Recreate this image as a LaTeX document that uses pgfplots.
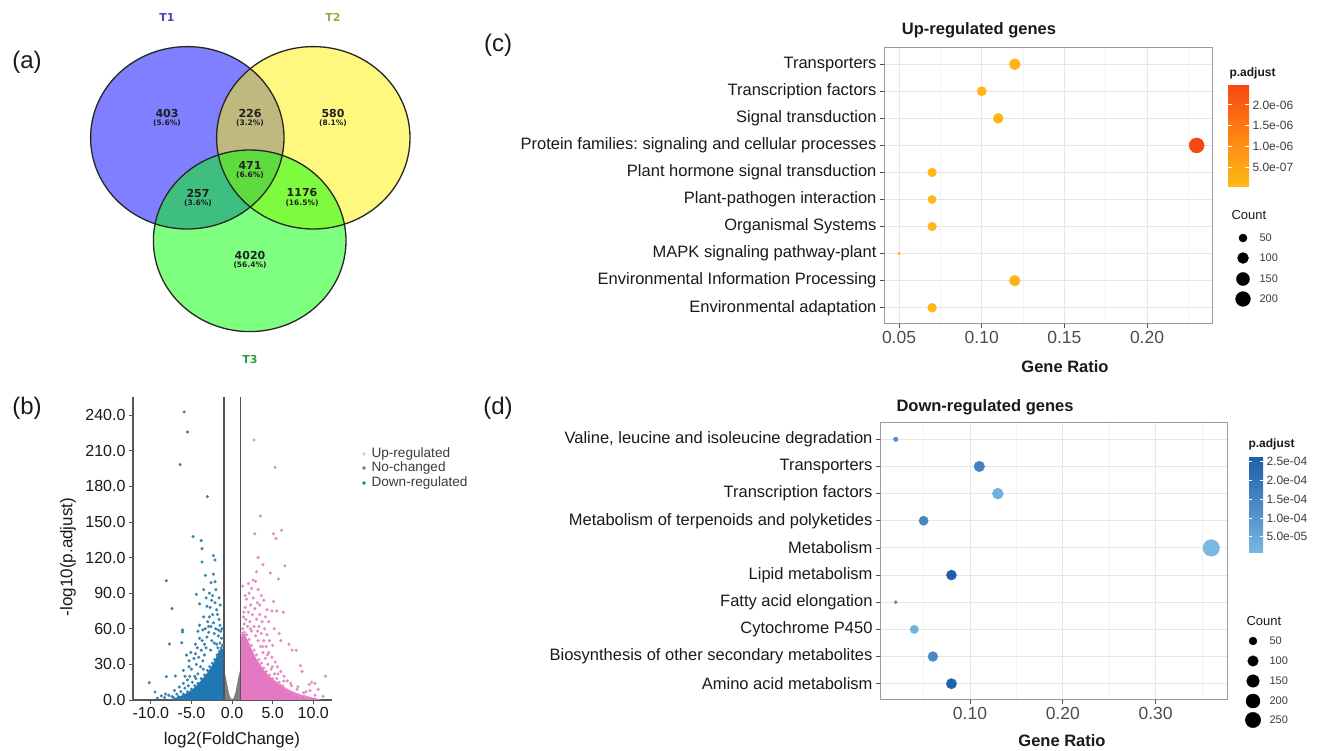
\documentclass[border=0pt]{standalone}
\usepackage{fontspec}
\setmainfont{Liberation Sans}
\newfontfamily\vennfont{DejaVu Sans}
\usepackage{pgfplots}
\pgfplotsset{compat=1.18}
\frenchspacing
\definecolor{vblue}{HTML}{1F77B4}
\definecolor{vpink}{HTML}{E377C2}
\definecolor{vgray}{HTML}{7F7F7F}
\definecolor{sblue}{HTML}{3584B0}
\definecolor{spink}{HTML}{E68AC7}
\definecolor{vline}{HTML}{555555}
\definecolor{txt}{HTML}{1A1A1A}
\definecolor{tickc}{HTML}{4D4D4D}
\definecolor{borderc}{HTML}{9A9A9A}
\definecolor{gridmaj}{HTML}{E6E6E6}
\definecolor{gridmin}{HTML}{F2F2F2}
\definecolor{tone}{HTML}{4545C0}
\definecolor{ttwo}{HTML}{A3A347}
\definecolor{tthree}{HTML}{2E9E3A}
\definecolor{vtxt}{HTML}{202020}
\newcommand{\fs}[1]{\fontsize{#1}{#1}\selectfont}
\newcommand{\vnum}[4]{%
  \node[font=\vennfont\bfseries\fs{11}, text=vtxt] at (axis cs:#1,#2) {#3};
  \node[font=\vennfont\bfseries\fs{7.5}, text=vtxt] at (axis cs:#1,#2+10) {(#4\%)};}
\pgfplotsset{
  dotpanel/.style={
    scale only axis, clip=false,
    ymin=0.4, ymax=10.6, ytick={1,...,10},
    grid=both, major grid style={color=gridmaj, line width=0.9pt},
    minor grid style={color=gridmin, line width=0.6pt},
    minor tick length=0pt,
    axis line style={draw=borderc, line width=1pt},
    tick align=outside, major tick length=4pt,
    tick style={color=tickc, line width=0.8pt},
    xtick pos=bottom, ytick pos=left,
    yticklabel style={font=\fs{16.5}, text=txt},
    xticklabel style={font=\fs{17.5}, text=tickc},
  }
}
\begin{document}
\begin{tikzpicture}
\fill[white] (0,0) rectangle (1318pt,751pt);
% ---------------- background axis in pixel coordinates ----------------
\begin{axis}[name=bg, at={(0pt,0pt)}, anchor=south west, scale only axis,
  width=1318pt, height=751pt, xmin=0, xmax=1318, ymin=0, ymax=751,
  y dir=reverse, hide axis, clip=false]
% Venn diagram (a)
\fill[blue, fill opacity=0.5] (axis cs:187.3,137.8) ellipse [x radius=96.7pt, y radius=91.2pt];
\fill[yellow, fill opacity=0.5] (axis cs:313.3,137.8) ellipse [x radius=96.7pt, y radius=91.2pt];
\fill[green, fill opacity=0.5] (axis cs:249.7,240.8) ellipse [x radius=96.3pt, y radius=90.8pt];
\draw[line width=1.3pt, black!85] (axis cs:187.3,137.8) ellipse [x radius=96.7pt, y radius=91.2pt];
\draw[line width=1.3pt, black!85] (axis cs:313.3,137.8) ellipse [x radius=96.7pt, y radius=91.2pt];
\draw[line width=1.3pt, black!85] (axis cs:249.7,240.8) ellipse [x radius=96.3pt, y radius=90.8pt];
\node[font=\vennfont\bfseries\fs{11}, text=tone] at (axis cs:167,17) {T1};
\node[font=\vennfont\bfseries\fs{11}, text=ttwo] at (axis cs:333,17) {T2};
\node[font=\vennfont\bfseries\fs{11}, text=tthree] at (axis cs:250,359) {T3};
\vnum{167}{113}{403}{5.6}
\vnum{250}{113}{226}{3.2}
\vnum{333}{113}{580}{8.1}
\vnum{250}{165}{471}{6.6}
\vnum{198}{193}{257}{3.6}
\vnum{302}{193}{1176}{16.5}
\vnum{250}{255}{4020}{56.4}
% panel labels
\node[font=\fs{24}, text=txt] at (axis cs:27,62) {(a)};
\node[font=\fs{24}, text=txt] at (axis cs:27,408) {(b)};
\node[font=\fs{24}, text=txt] at (axis cs:498,45) {(c)};
\node[font=\fs{24}, text=txt] at (axis cs:498,408) {(d)};
% volcano labels and legend
\node[font=\fs{17}, text=txt] at (axis cs:232,740) {log2(FoldChange)};
\node[font=\fs{17}, text=txt, rotate=90] at (axis cs:68,557) {-log10(p.adjust)};
\addplot[only marks, mark=*, mark size=1.6pt, color=vpink!45] coordinates {(364,454)};
\addplot[only marks, mark=*, mark size=1.6pt, color=vgray] coordinates {(364,468)};
\addplot[only marks, mark=*, mark size=1.6pt, color=sblue!70!teal] coordinates {(364,483)};
\node[anchor=west, font=\fs{13.6}, text=txt!85] at (axis cs:368,454) {Up-regulated};
\node[anchor=west, font=\fs{13.6}, text=txt!85] at (axis cs:368,468) {No-changed};
\node[anchor=west, font=\fs{13.6}, text=txt!85] at (axis cs:368,483) {Down-regulated};
% panel c titles and legends
\node[font=\bfseries\fs{16.5}, text=txt] at (axis cs:979,30) {Up-regulated genes};
\node[font=\bfseries\fs{16.5}, text=txt] at (axis cs:1065,367) {Gene Ratio};
\node[anchor=west, font=\bfseries\fs{12}, text=txt] at (axis cs:1226,73) {p.adjust};
\node[anchor=west, font=\fs{13}, text=txt] at (axis cs:1228,215) {Count};
\addplot[scatter, only marks, mark=*, point meta=\thisrow{c},
  scatter/use mapped color={draw=black, fill=black},
  visualization depends on={1.5+6*sqrt((\thisrow{c}-16)/191) \as \msize},
  scatter/@pre marker code/.append style={/tikz/mark size=\msize}]
  table[x=x, y=y] {
x y c
1243 238 50
1243 258 100
1243 279 150
1243 299 200
};
\node[anchor=west, font=\fs{11}, text=txt!85] at (axis cs:1256,238) {50};
\node[anchor=west, font=\fs{11}, text=txt!85] at (axis cs:1256,258) {100};
\node[anchor=west, font=\fs{11}, text=txt!85] at (axis cs:1256,279) {150};
\node[anchor=west, font=\fs{11}, text=txt!85] at (axis cs:1256,299) {200};
% panel d titles and legends
\node[font=\bfseries\fs{16.5}, text=txt] at (axis cs:985,407) {Down-regulated genes};
\node[font=\bfseries\fs{16.5}, text=txt] at (axis cs:1062,741) {Gene Ratio};
\node[anchor=west, font=\bfseries\fs{12}, text=txt] at (axis cs:1245,444) {p.adjust};
\node[anchor=west, font=\fs{13}, text=txt] at (axis cs:1243,621) {Count};
\addplot[scatter, only marks, mark=*, point meta=\thisrow{c},
  scatter/use mapped color={draw=black, fill=black},
  visualization depends on={1.7+6.6*sqrt((\thisrow{c}-17)/283) \as \msize},
  scatter/@pre marker code/.append style={/tikz/mark size=\msize}]
  table[x=x, y=y] {
x y c
1253 641 50
1253 661 100
1253 681 150
1253 701 200
1253 720 250
};
\node[anchor=west, font=\fs{11}, text=txt!85] at (axis cs:1266,641) {50};
\node[anchor=west, font=\fs{11}, text=txt!85] at (axis cs:1266,661) {100};
\node[anchor=west, font=\fs{11}, text=txt!85] at (axis cs:1266,681) {150};
\node[anchor=west, font=\fs{11}, text=txt!85] at (axis cs:1266,701) {200};
\node[anchor=west, font=\fs{11}, text=txt!85] at (axis cs:1266,720) {250};
\end{axis}

% ---------------- (b) volcano plot ----------------
\begin{axis}[at={(133pt,51pt)}, anchor=south west, scale only axis,
  width=199pt, height=303pt, xmin=-12.2, xmax=12.3, ymin=0, ymax=255.3,
  axis x line*=bottom, axis y line*=left,
  axis line style={draw=vline, line width=1.1pt},
  tick align=outside, major tick length=4pt, tick style={color=vline, line width=0.9pt},
  xtick={-10,-5,0,5,10}, xticklabels={-10.0,-5.0,0.0,5.0,10.0},
  ytick={0,30,60,90,120,150,180,210,240},
  yticklabels={0.0,30.0,60.0,90.0,120.0,150.0,180.0,210.0,240.0},
  tick label style={font=\fs{16}, text=txt}]
\addplot[fill=vpink, draw=none] coordinates {(1.08,0) (1.08,52) (1.25,56) (1.5,56) (1.8,52) (2.1,48) (2.4,43) (2.7,38.5) (3.05,34) (3.5,29.5) (3.9,25.5) (4.3,22) (4.7,19.5) (5.3,16) (5.9,13) (6.5,10.5) (7.2,8) (8.0,5.5) (8.8,3.8) (9.6,2.5) (10.5,1.2) (11,0)} -- cycle;
\addplot[fill=vblue, draw=none] coordinates {(-1.08,0) (-1.08,42) (-1.3,44) (-1.6,41) (-1.9,37) (-2.2,32.5) (-2.5,28.5) (-2.8,25.5) (-3.1,22.5) (-3.5,19) (-3.95,15.5) (-4.4,12) (-4.8,9.5) (-5.3,7) (-5.8,5) (-6.3,3.5) (-6.8,2.2) (-7.3,1) (-7.6,0)} -- cycle;
\addplot[fill=vgray, draw=none] coordinates {(-1.08,0) (-1.08,27) (-0.95,25) (-0.8,20) (-0.6,13) (-0.4,6) (-0.2,1.8) (0,0.6) (0.2,1.8) (0.4,6) (0.6,13) (0.8,20) (0.95,24) (1.08,26) (1.08,0)} -- cycle;
\addplot[only marks, mark=*, mark size=1.35pt, color=sblue] table {
x y
-5.9 242.7
-5.5 225.8
-6.4 198.3
-3.05 171.3
-4.8 137.6
-3.8 134.3
-3.7 127.5
-3.7 116.3
-2.3 121.6
-2.1 118
-8.1 100.5
-2.6 98.8
-2.1 99.7
-7.4 77
-6.1 59
-6.1 57.3
-7.7 47.2
-8.1 19.7
-10.2 14.6
-9.5 6.7
-8.2 5
-7.0 20.2
-6.2 48.3
-5.6 37.9
-5.3 28
-6.0 25
-4.4 89
-4.0 81
-3.5 93
-3.1 79
-2.8 70
-2.5 84
-2.3 65
-1.9 76
-1.7 59
-1.5 63
-3.6 59
-4.0 63
-3.1 53
-4.5 47
-5.1 40
-4.5 39
-3.4 47
-2.2 48
-1.7 54
-1.3 52
-1.4 58
-1.5 48
-1.6 68
-1.8 72
-1.9 47
-2.0 60
-2.1 82
-2.2 56
-2.4 88
-2.4 72
-2.5 50
-2.6 62
-2.7 78
-2.8 90
-2.9 57
-3.0 66
-3.2 44
-3.2 86
-3.3 60
-3.4 38
-3.5 70
-3.6 33
-3.7 50
-3.8 42
-3.9 28
-4.0 52
-4.1 36
-4.2 22
-4.3 44
-4.4 30
-4.6 20
-4.7 35
-4.9 15
-5.0 26
-5.2 20
-5.4 12
-5.5 17
-5.8 10
-6.0 14
-6.3 7
-6.5 11
-6.8 5
-7.1 8
-7.4 3
-7.8 4
-8.3 2
-8.7 3.5
-9.2 1.5
-1.2 46
-1.35 44
-1.55 41
-1.85 38
-2.15 34
-2.45 31
-2.75 28
-3.05 25
-3.4 21
-3.8 18
-4.2 14
-4.6 12
-5.0 9
-5.5 7
-6.0 5
-6.6 3
-7.2 2
-2.0 93
-1.45 80
-1.6 86
-2.3 106
-2.9 62
-4.2 58
-5.3 33
-5.8 20
-3.3 105
-1.25 60
-2.65 42
-3.55 26
-4.45 18
-1.75 44
};
\addplot[only marks, mark=*, mark size=1.35pt, color=spink] table {
x y
2.7 219
5.3 196
3.5 155
2.8 140
5.1 140
6.1 143
5.4 136
6.5 113
3.2 120
3.8 114
4.7 107
5.7 102
3.0 108
2.6 101
3.2 93
3.9 84
3.4 80
4.3 76
4.9 75
5.5 75
6.3 74
5.1 83
5.8 56
7.0 47
7.4 42
8.4 29
8.6 24
9.8 15
11.5 20
9.5 13
10.2 14
7.9 42
1.3 60
1.4 70
1.5 64
1.6 78
1.7 68
1.8 85
1.9 62
2.0 74
2.1 90
2.2 66
2.3 80
2.4 58
2.5 72
2.6 86
2.7 62
2.8 77
2.9 54
3.0 68
3.1 82
3.2 50
3.3 62
3.4 72
3.5 45
3.6 56
3.7 66
3.8 40
3.9 50
4.0 60
4.1 35
4.2 45
4.3 55
4.4 30
4.5 40
4.6 50
4.8 26
4.9 36
5.0 46
5.2 22
5.3 32
5.5 18
5.6 28
5.8 15
6.0 24
6.2 12
6.4 20
6.6 9
6.8 16
7.0 7
7.3 12
7.6 5
8.0 9
8.3 3
8.8 6
9.3 2
9.6 8
10.2 4
1.2 56
1.5 57
1.8 55
2.1 51
2.4 46
2.7 42
3.0 38
3.3 34
3.6 31
3.9 27
4.2 24
4.6 21
5.0 18
5.4 15
5.9 12.5
6.4 10
7.0 7.5
7.6 6
8.2 4.5
9.0 3
1.3 96
2.0 98
2.4 94
1.6 88
3.6 88
4.5 66
5.2 60
6.0 50
4.1 70
2.9 100
1.45 74
2.25 60
3.15 58
3.75 45
4.35 38
4.95 28
5.65 22
6.35 16
7.2 14
8.1 11
9.1 7
10.6 9
11.2 3
};
\addplot[color=vline, line width=1.2pt] coordinates {(-1,0) (-1,255.3)};
\addplot[color=vline, line width=1.2pt] coordinates {(1,0) (1,255.3)};
\end{axis}

% ---------------- (c) up-regulated ----------------
\begin{axis}[dotpanel, at={(884pt,427pt)}, anchor=south west,
  width=328pt, height=276pt, xmin=0.0409, xmax=0.2393,
  xtick={0.05,0.10,0.15,0.20}, xticklabels={0.05,0.10,0.15,0.20},
  minor xtick={0.075,0.125,0.175,0.225},
  yticklabels={Environmental adaptation, Environmental Information Processing, MAPK signaling pathway-plant, Organismal Systems, Plant-pathogen interaction, Plant hormone signal transduction, Protein families: signaling and cellular processes, Signal transduction, Transcription factors, Transporters},
  colormap={cmapc}{rgb255=(255,186,22) rgb255=(255,132,20) rgb255=(246,72,16)},
  point meta min=0.02, point meta max=2.48,
  colorbar,
  colorbar/width=21pt,
  colorbar shift/.style={xshift=16pt, yshift=-37pt},
  colorbar style={at={(parent axis.north east)}, anchor=north west,
    scale only axis, width=21pt, height=102pt, grid=none,
    xtick=\empty, minor xtick={}, minor ytick={},
    ytick={0.5,1,1.5,2}, yticklabels={5.0e-07,1.0e-06,1.5e-06,2.0e-06},
    ytick pos=both, yticklabel pos=right, tick align=inside, major tick length=4pt,
    tick style={color=white, line width=0.8pt}, axis line style={draw=none},
    yticklabel style={font=\fs{12}, text=txt!85}}]
\addplot[scatter, only marks, mark=*, point meta={\thisrow{padj}*1e6},
  scatter/use mapped color={draw=mapped color, fill=mapped color},
  visualization depends on={1.5+6*sqrt((\thisrow{count}-16)/191) \as \msize},
  scatter/@pre marker code/.append style={/tikz/mark size=\msize}]
  table[x=ratio, y=pos] {
ratio pos count padj
0.12 10 101 1.6e-07
0.10 9 70 1.2e-07
0.11 8 81 1.4e-07
0.23 7 207 2.48e-06
0.07 6 60 1.0e-07
0.07 5 52 8.0e-08
0.07 4 60 1.0e-07
0.05 3 16 2.0e-08
0.12 2 95 1.5e-07
0.07 1 62 1.0e-07
};
\end{axis}

% ---------------- (d) down-regulated ----------------
\begin{axis}[dotpanel, at={(880pt,51pt)}, anchor=south west,
  width=347pt, height=277pt, xmin=0.003, xmax=0.377,
  xtick={0.1,0.2,0.3}, xticklabels={0.10,0.20,0.30},
  minor xtick={0.05,0.15,0.25,0.35},
  yticklabels={Amino acid metabolism, Biosynthesis of other secondary metabolites, Cytochrome P450, Fatty acid elongation, Lipid metabolism, Metabolism, Metabolism of terpenoids and polyketides, Transcription factors, Transporters, {Valine, leucine and isoleucine degradation}},
  colormap={cmapd}{rgb255=(122,184,225) rgb255=(75,138,196) rgb255=(30,96,168)},
  point meta min=0.07, point meta max=2.63,
  colorbar,
  colorbar/width=14pt,
  colorbar shift/.style={xshift=22pt, yshift=-34pt},
  colorbar style={at={(parent axis.north east)}, anchor=north west,
    scale only axis, width=14pt, height=96pt, grid=none,
    xtick=\empty, minor xtick={}, minor ytick={},
    ytick={0.5,1,1.5,2,2.5}, yticklabels={5.0e-05,1.0e-04,1.5e-04,2.0e-04,2.5e-04},
    ytick pos=both, yticklabel pos=right, tick align=inside, major tick length=3pt,
    tick style={color=white, line width=0.8pt}, axis line style={draw=none},
    yticklabel style={font=\fs{12}, text=txt!85}}]
\addplot[scatter, only marks, mark=*, point meta={\thisrow{padj}*1e4},
  scatter/use mapped color={draw=mapped color, fill=mapped color},
  visualization depends on={1.7+6.6*sqrt((\thisrow{count}-17)/283) \as \msize},
  scatter/@pre marker code/.append style={/tikz/mark size=\msize}]
  table[x=ratio, y=pos] {
ratio pos count padj
0.02 10 19 1.3e-04
0.11 9 101 1.6e-04
0.13 8 111 3.0e-05
0.05 7 72 1.5e-04
0.36 6 300 7.0e-06
0.08 5 88 2.63e-04
0.02 4 17 1.2e-04
0.04 3 58 2.5e-05
0.06 2 85 1.4e-04
0.08 1 95 2.55e-04
};
\end{axis}
\pgfresetboundingbox
\path[use as bounding box] (0,0) rectangle (1318pt,751pt);
\end{tikzpicture}
\end{document}
